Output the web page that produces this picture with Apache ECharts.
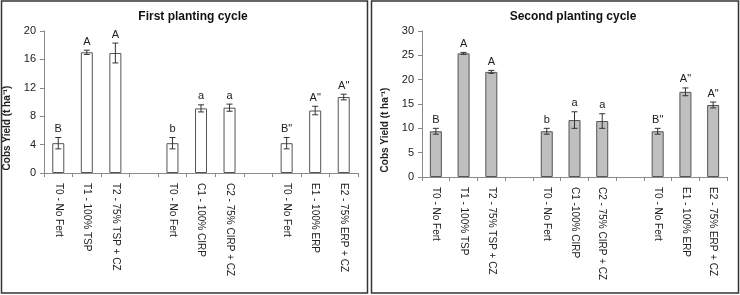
<!DOCTYPE html>
<html>
<head>
<meta charset="utf-8">
<script src="https://cdn.jsdelivr.net/npm/echarts@6/dist/echarts.min.js"></script>
<style>
  html, body { margin: 0; padding: 0; background: #fff; }
  #chart { width: 740px; height: 295px; }
</style>
</head>
<body>
<div id="chart"></div>
<script>
// categories (empty slots separate the three groups)
var catsFirst = ['T0 - No Fert', 'T1 - 100% TSP', 'T2 - 75% TSP + CZ', '',
    'T0 - No Fert', 'C1 - 100% CIRP', 'C2 - 75% CIRP + CZ', '',
    'T0 - No Fert', 'E1 - 100% ERP', 'E2 - 75% ERP + CZ'];
var catsSecond = ['T0 - No Fert', 'T1 - 100% TSP', 'T2 - 75% TSP + CZ', '',
    'T0 - No Fert', 'C1 -100% CIRP', 'C2 - 75% CIRP + CZ', '',
    'T0 - No Fert', 'E1 - 100% ERP', 'E2 - 75% ERP + CZ'];

// first planting cycle
var yieldFirst = [4.2, 17.0, 16.9, null, 4.2, 9.1, 9.2, null, 4.2, 8.8, 10.7];
var errFirst = [0.8, 0.3, 1.4, null, 0.8, 0.5, 0.5, null, 0.8, 0.6, 0.4];
var lettersFirst = ['B', 'A', 'A', '', 'b', 'a', 'a', '', 'B"', 'A"', 'A"'];

// second planting cycle
var yieldSecond = [9.4, 25.4, 21.6, null, 9.4, 11.7, 11.5, null, 9.4, 17.5, 14.8];
var errSecond = [0.6, 0.2, 0.3, null, 0.6, 1.7, 1.5, null, 0.6, 0.8, 0.6];
var lettersSecond = ['B', 'A', 'A', '', 'b', 'a', 'a', '', 'B"', 'A"', 'A"'];

var ticksFirst = {min: 0, max: 20, interval: 4};
var ticksSecond = {min: 0, max: 30, interval: 5};

var font = 'Liberation Sans, Arial, sans-serif';
var textColor = '#222';

function errData(vals, errs, letters) {
    var out = [];
    vals.forEach(function (v, i) {
        if (v != null) out.push([i, v, errs[i], letters[i]]);
    });
    return out;
}

function renderErr(params, api) {
    var x = api.value(0), v = api.value(1), e = api.value(2);
    var top = api.coord([x, v + e]);
    var bot = api.coord([x, v - e]);
    var cap = 3;
    return {
        type: 'group',
        children: [
            {type: 'line', shape: {x1: top[0], y1: top[1], x2: bot[0], y2: bot[1]},
                style: {stroke: '#333', lineWidth: 1}},
            {type: 'line', shape: {x1: top[0] - cap, y1: top[1], x2: top[0] + cap, y2: top[1]},
                style: {stroke: '#333', lineWidth: 1}},
            {type: 'line', shape: {x1: bot[0] - cap, y1: bot[1], x2: bot[0] + cap, y2: bot[1]},
                style: {stroke: '#333', lineWidth: 1}},
            {type: 'text', x: top[0], y: top[1] - 3,
                style: {text: api.value(3), fill: textColor, font: '11px ' + font,
                    align: 'center', verticalAlign: 'bottom'}}
        ]
    };
}

function xAxis(idx, cats) {
    return {
        type: 'category', gridIndex: idx, data: cats,
        axisLine: {lineStyle: {color: '#8a8a8a', width: 1}},
        axisTick: {show: true, length: 4, lineStyle: {color: '#8a8a8a'}},
        axisLabel: {rotate: -90, interval: 0, margin: 10, fontSize: 10,
            fontFamily: font, color: textColor}
    };
}

function yAxis(idx, ticks, gap) {
    return {
        type: 'value', gridIndex: idx,
        min: ticks.min, max: ticks.max, interval: ticks.interval,
        name: 'Cobs Yield (t ha\u207B\u00B9)', nameLocation: 'middle', nameGap: gap,
        nameTextStyle: {fontSize: 10, fontWeight: 'bold', fontFamily: font, color: textColor,
            padding: [0, 52, 0, 0]},
        axisLine: {show: true, lineStyle: {color: '#8a8a8a', width: 1}},
        axisTick: {show: true, length: 4, lineStyle: {color: '#8a8a8a'}},
        splitLine: {show: false},
        axisLabel: {fontSize: 11, fontFamily: font, color: textColor, margin: 8}
    };
}

var chart = echarts.init(document.getElementById('chart'));

chart.setOption({
    animation: false,
    title: [
        {text: 'First planting cycle', left: 188, top: 6, textAlign: 'center',
            textStyle: {fontSize: 12, fontWeight: 'bold', fontFamily: font, color: '#111'}},
        {text: 'Second planting cycle', left: 568, top: 6, textAlign: 'center',
            textStyle: {fontSize: 12, fontWeight: 'bold', fontFamily: font, color: '#111'}}
    ],
    grid: [
        {left: 44, top: 31, width: 314, height: 142},
        {left: 422, top: 31, width: 305, height: 146}
    ],
    xAxis: [xAxis(0, catsFirst), xAxis(1, catsSecond)],
    yAxis: [yAxis(0, ticksFirst, 32), yAxis(1, ticksSecond, 32)],
    graphic: [
        {type: 'rect', shape: {x: 1.5, y: 1, width: 366, height: 292},
            style: {fill: 'none', stroke: '#333', lineWidth: 1.5}, silent: true},
        {type: 'rect', shape: {x: 371.5, y: 1, width: 367, height: 292},
            style: {fill: 'none', stroke: '#333', lineWidth: 1.5}, silent: true}
    ],
    series: [
        {type: 'bar', xAxisIndex: 0, yAxisIndex: 0, data: yieldFirst, barWidth: 12,
            itemStyle: {color: '#fff', borderColor: '#555', borderWidth: 1}},
        {type: 'custom', xAxisIndex: 0, yAxisIndex: 0, renderItem: renderErr,
            data: errData(yieldFirst, errFirst, lettersFirst), z: 5},
        {type: 'bar', xAxisIndex: 1, yAxisIndex: 1, data: yieldSecond, barWidth: 12,
            itemStyle: {color: '#bfbfbf', borderColor: '#555', borderWidth: 1}},
        {type: 'custom', xAxisIndex: 1, yAxisIndex: 1, renderItem: renderErr,
            data: errData(yieldSecond, errSecond, lettersSecond), z: 5}
    ]
});
</script>
</body>
</html>
